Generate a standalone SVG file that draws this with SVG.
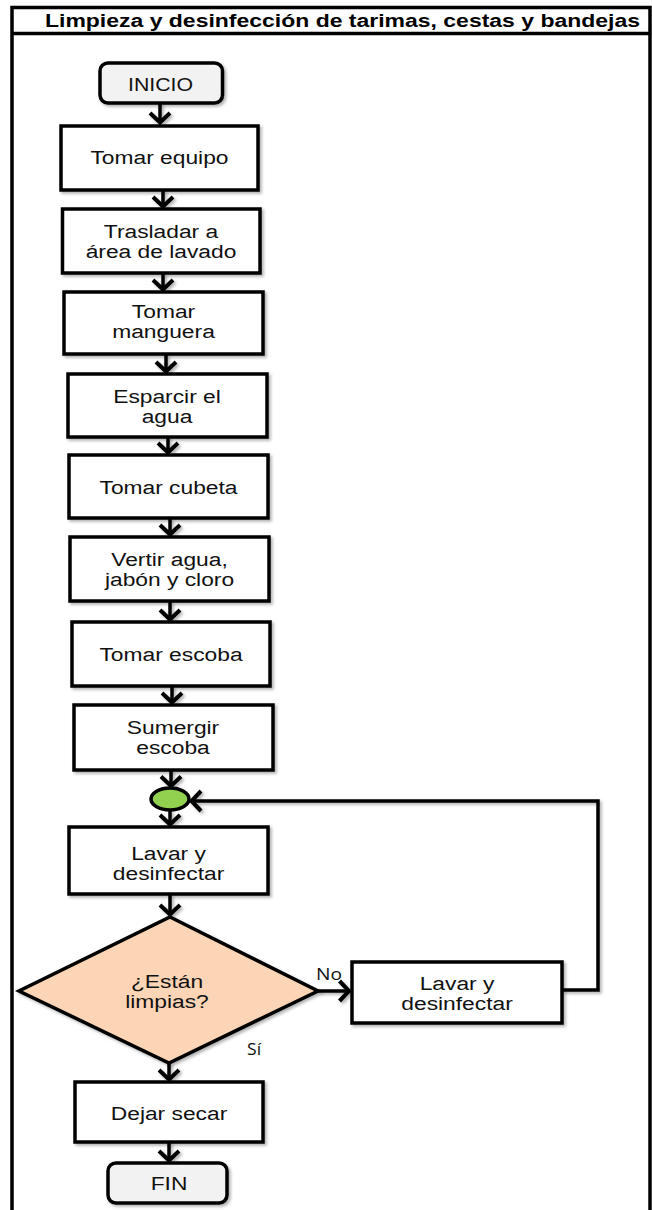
<svg xmlns="http://www.w3.org/2000/svg" width="652" height="1210" viewBox="0 0 652 1210">
  <style>
    .frame { fill: none; stroke: #000; stroke-width: 3.5; }
    .box { fill: #fff; stroke: #000; stroke-width: 3.5; filter: url(#shadow); }
    .term { fill: #f2f2f2; stroke: #000; stroke-width: 3.5; filter: url(#shadow); }
    .dec { fill: #fbd5b5; stroke: #000; stroke-width: 3.5; filter: url(#shadow); }
    .join { fill: #92d050; stroke: #000; stroke-width: 3.5; }
    .t { font-family: "Liberation Sans", Arial, sans-serif; font-size: 19px; fill: #111; text-anchor: middle; }
    .title { font-family: "Liberation Sans", Arial, sans-serif; font-size: 18px; font-weight: bold; fill: #000; text-anchor: middle; }
    .lbl { font-family: "Open Sans", "Noto Sans", sans-serif; font-size: 16px; fill: #111; }
    .c { fill: none; stroke: #000; stroke-width: 3.5; marker-end: url(#arr); }
  </style>
  <defs>
    <filter id="shadow" x="-10%" y="-10%" width="130%" height="130%">
      <feDropShadow dx="2" dy="2" stdDeviation="1.5" flood-color="#000" flood-opacity="0.3"/>
    </filter>
    <!-- page-sized region so straight (zero-width) connectors still render -->
    <filter id="lineShadow" filterUnits="userSpaceOnUse" x="0" y="0" width="652" height="1210">
      <feDropShadow dx="2" dy="2" stdDeviation="1.5" flood-color="#000" flood-opacity="0.3"/>
    </filter>
    <marker id="arr" markerUnits="userSpaceOnUse" viewBox="-14 -14 20 28" markerWidth="20" markerHeight="28" refX="0" refY="0" orient="auto" overflow="visible">
      <path d="M-9.5,-10 L0,0 L-9.5,10" fill="none" stroke="#000" stroke-width="4"/>
    </marker>
  </defs>

  <!-- outer frame with title band -->
  <g id="frame">
    <rect class="frame" x="12" y="7.5" width="638" height="1210"/>
    <line class="frame" x1="12" y1="33.5" x2="650" y2="33.5"/>
    <text class="title" x="342.5" y="27" textLength="595" lengthAdjust="spacingAndGlyphs">Limpieza y desinfección de tarimas, cestas y bandejas</text>
  </g>

  <!-- connectors -->
  <g id="connectors" filter="url(#lineShadow)">
    <path class="c" d="M160,103 V122.5"/>
    <path class="c" d="M163,190 V206.5"/>
    <path class="c" d="M163,273 V289.5"/>
    <path class="c" d="M166,354 V371.5"/>
    <path class="c" d="M168,437 V452.5"/>
    <path class="c" d="M170,518 V534.5"/>
    <path class="c" d="M170,601 V619.5"/>
    <path class="c" d="M172,686 V702.5"/>
    <path class="c" d="M171,770 V786"/>
    <path class="c" d="M170,810 V824.5"/>
    <path class="c" d="M170,894 V914.5"/>
    <path class="c" d="M169,1063 V1079.5"/>
    <path class="c" d="M169,1142 V1160.5"/>
    <path class="c" d="M318,991 H349"/>
    <path class="c" d="M562,990 H598 V801 H191.5"/>
  </g>

  <g id="inicio">
    <rect class="term" x="100" y="63" width="122.5" height="40" rx="8"/>
    <text class="t" transform="translate(160.5 91) scale(1.12 1)">INICIO</text>
  </g>

  <g id="tomar-equipo">
    <rect class="box" x="61" y="126" width="197" height="64"/>
    <text class="t" transform="translate(159.5 164) scale(1.2 1)">Tomar equipo</text>
  </g>

  <g id="trasladar">
    <rect class="box" x="62.5" y="209" width="197.5" height="64"/>
    <text class="t" transform="translate(161 238) scale(1.2 1)"><tspan x="0" y="0">Trasladar a</tspan><tspan x="0" y="20">área de lavado</tspan></text>
  </g>

  <g id="tomar-manguera">
    <rect class="box" x="64" y="292" width="199" height="62"/>
    <text class="t" transform="translate(163.5 318) scale(1.2 1)"><tspan x="0" y="0">Tomar</tspan><tspan x="0" y="20">manguera</tspan></text>
  </g>

  <g id="esparcir">
    <rect class="box" x="68" y="374" width="199" height="63"/>
    <text class="t" transform="translate(167 403) scale(1.2 1)"><tspan x="0" y="0">Esparcir el</tspan><tspan x="0" y="20">agua</tspan></text>
  </g>

  <g id="tomar-cubeta">
    <rect class="box" x="69" y="455" width="199" height="63"/>
    <text class="t" transform="translate(168.5 494) scale(1.2 1)">Tomar cubeta</text>
  </g>

  <g id="vertir">
    <rect class="box" x="70" y="537" width="199" height="64"/>
    <text class="t" transform="translate(169.5 566) scale(1.2 1)"><tspan x="0" y="0">Vertir agua,</tspan><tspan x="0" y="20">jabón y cloro</tspan></text>
  </g>

  <g id="tomar-escoba">
    <rect class="box" x="72" y="622" width="198" height="64"/>
    <text class="t" transform="translate(171 661) scale(1.2 1)">Tomar escoba</text>
  </g>

  <g id="sumergir">
    <rect class="box" x="74" y="705" width="199" height="65"/>
    <text class="t" transform="translate(173 734) scale(1.2 1)"><tspan x="0" y="0">Sumergir</tspan><tspan x="0" y="20">escoba</tspan></text>
  </g>

  <g id="union">
    <ellipse class="join" cx="170" cy="799" rx="19" ry="11"/>
  </g>

  <g id="lavar">
    <rect class="box" x="69" y="827" width="199" height="67"/>
    <text class="t" transform="translate(168.5 860) scale(1.2 1)"><tspan x="0" y="0">Lavar y</tspan><tspan x="0" y="20">desinfectar</tspan></text>
  </g>

  <g id="decision">
    <polygon class="dec" points="170,917 318,991 169,1063 19,991"/>
    <text class="t" transform="translate(167 988) scale(1.2 1)"><tspan x="0" y="0">¿Están</tspan><tspan x="0" y="20">limpias?</tspan></text>
    <text class="lbl" transform="translate(316 980) scale(1.2 1)">No</text>
    <text class="lbl" transform="translate(247 1055) scale(1.1 1)">Sí</text>
  </g>

  <g id="lavar-otra-vez">
    <rect class="box" x="352" y="962" width="210" height="61"/>
    <text class="t" transform="translate(457 990) scale(1.2 1)"><tspan x="0" y="0">Lavar y</tspan><tspan x="0" y="20">desinfectar</tspan></text>
  </g>

  <g id="dejar-secar">
    <rect class="box" x="75" y="1082" width="188" height="60"/>
    <text class="t" transform="translate(169 1120) scale(1.2 1)">Dejar secar</text>
  </g>

  <g id="fin">
    <rect class="term" x="108" y="1163" width="119" height="40" rx="8"/>
    <text class="t" transform="translate(169 1190) scale(1.2 1)">FIN</text>
  </g>
</svg>
